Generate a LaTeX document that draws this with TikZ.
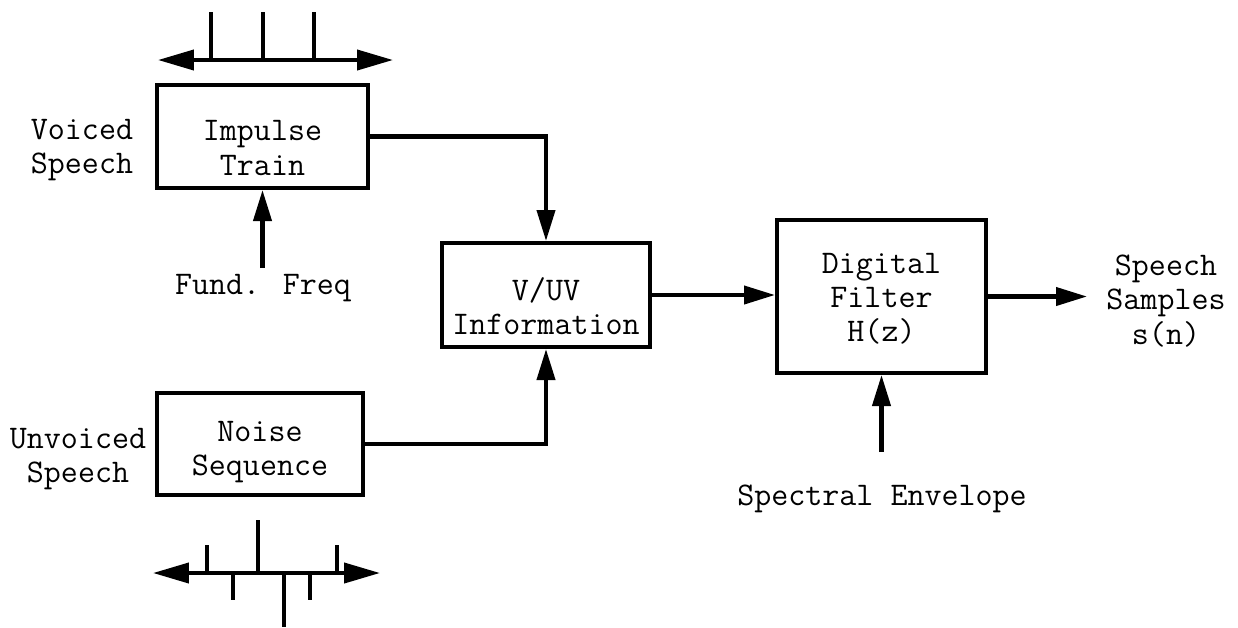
\documentclass[tikz,border=0pt]{standalone}
\usepackage{fontspec}
\usetikzlibrary{arrows.meta}

\begin{document}
\begin{tikzpicture}[%
      x=0.02cm, y=-0.02cm,
      line width=2.3pt,
      >={Triangle[length=0.62cm,width=0.36cm]},
      every node/.style={font=\ttfamily\fontsize{18.8}{19.5}\selectfont, align=center, inner sep=0pt},
      block/.style={draw, rectangle},
      axis/.style={<->, >={Triangle[length=0.72cm,width=0.4cm]}},
      ]
      \useasboundingbox (0,0) rectangle (1238,627);

      % blocks
      \node [block, minimum width=4.22cm, minimum height=2.06cm] (impulse) at (262.5,136.5) {};
      \node [block, minimum width=4.12cm, minimum height=2.04cm] (noise) at (260,444) {};
      \node [block, minimum width=4.16cm, minimum height=2.08cm] (vuv) at (546,295) {};
      \node [block, minimum width=4.18cm, minimum height=3.06cm] (filter) at (881.5,296.5) {};

      \node (impulse-txt) at (262.5,148) {Impulse\\Train};
      \node (noise-txt) at (260,452) {Noise\\Sequence};
      \node (vuv-txt) at (546,306) {V/UV\\Information};
      \node (filter-txt) at (881.5,299) {Digital\\Filter\\H(z)};

      % labels
      \node (voiced) at (82,150) {Voiced\\Speech};
      \node (unvoiced) at (78,459) {Unvoiced\\Speech};
      \node (fund) at (263,288) {Fund. Freq};
      \node (spectral) at (882,499) {Spectral Envelope};
      \node (samples) at (1166,301) {Speech\\Samples\\s(n)};

      % free ends
      \coordinate (f0) at (262.5,268);
      \coordinate (env) at (881.5,452);
      \coordinate (out) at (1087,296.5);

      % connectors
      \draw [->] (impulse.east) -| (vuv.north);
      \draw [->] (noise.east) -| (vuv.south);
      \draw [->] (vuv.east) -- (vuv.east -| filter.west);
      \draw [->] (filter.east) -- (out);
      \draw [->] (f0) -- (impulse.south);
      \draw [->] (env) -- (filter.south);

      % impulse train
      \draw [axis] (158,60) -- (393,60);
      \foreach \x in {211,263,314}
        \draw (\x,12) -- (\x,60);

      % noise sequence
      \draw [axis] (153,573) -- (380,573);
      \foreach \x/\y in {207/545,258/520,233/600,284/627,310/600,337/545}
        \draw (\x,573) -- (\x,\y);
\end{tikzpicture}
\end{document}
